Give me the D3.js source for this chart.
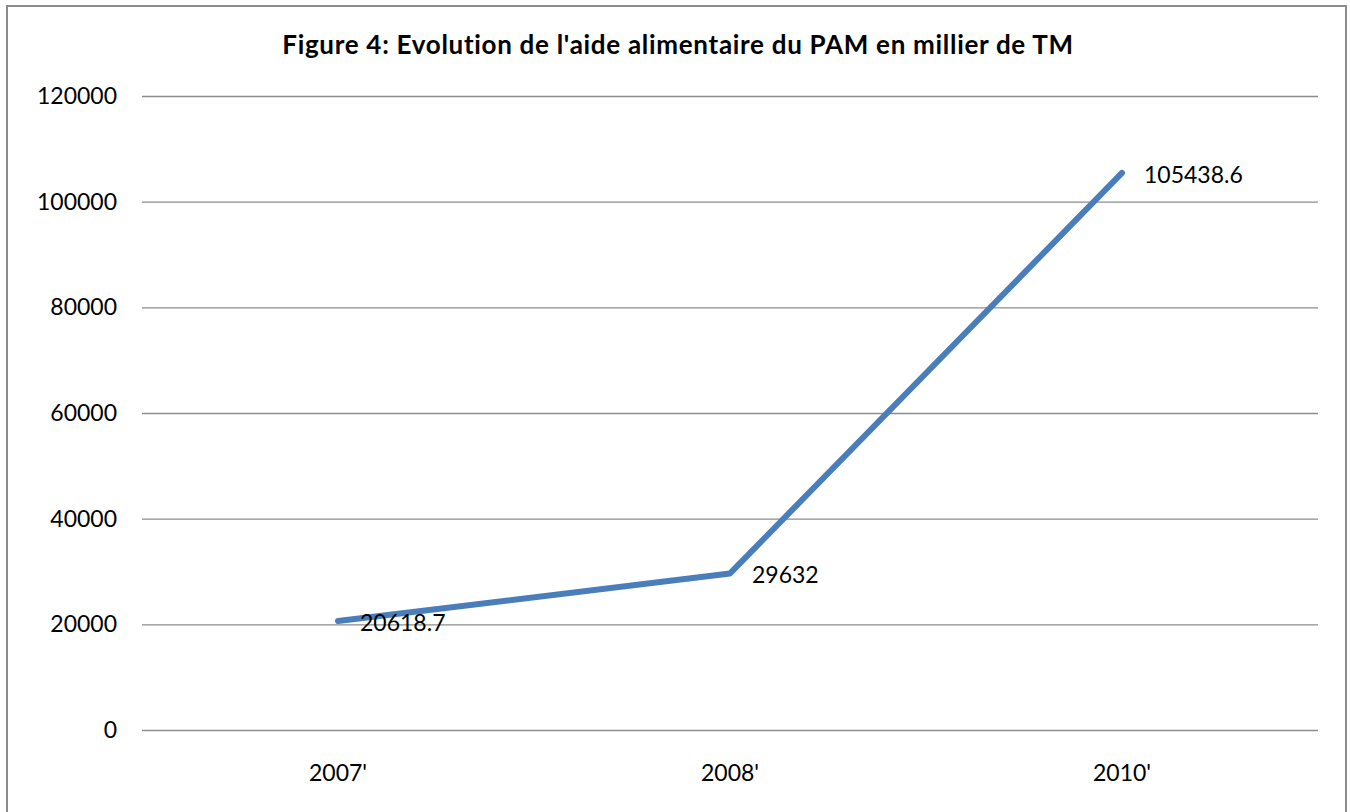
<!DOCTYPE html>
<html lang="fr">
<head>
    <meta charset="UTF-8">
    <title>Aide alimentaire PAM</title>
    <script src="https://d3js.org/d3.v7.min.js"></script>
    <style>
        body { margin: 0; background: #fff; }
        text { font-family: Lato, "Open Sans", sans-serif; fill: #000; }
    </style>
</head>
<body>

<svg width="1350" height="812"></svg>

<script>

    var years = ["2007'", "2008'", "2010'"];
    var values = [20618.7, 29632, 105438.6];
    var yTicks = [0, 20000, 40000, 60000, 80000, 100000, 120000];

    var svg = d3.select('svg');

    // cadre du graphique
    svg.append('rect')
        .attr('x', 7).attr('y', 6)
        .attr('width', 1339).attr('height', 820)
        .attr('fill', 'none')
        .attr('stroke', '#8c8c8c')
        .attr('stroke-width', 2);

    svg.append('text')
        .attr('x', 678).attr('y', 54)
        .attr('text-anchor', 'middle')
        .style('font-size', '26px')
        .style('font-weight', 'bold')
        .style('letter-spacing', '0.7px')
        .text("Figure 4: Evolution de l'aide alimentaire du PAM en millier de TM");

    var left = 142, right = 1318;

    var x = d3.scaleBand().domain(years).range([left, right]);
    var y = d3.scaleLinear().domain([0, 120000]).range([730, 96]);

    // grille + axe Y
    var axisY = d3.axisLeft(y).tickValues(yTicks).tickFormat(d3.format('d'))
        .tickSize(-(right - left)).tickPadding(25);
    var gy = svg.append('g')
        .attr('transform', 'translate(' + left + ',0)')
        .call(axisY);
    gy.select('.domain').remove();
    gy.selectAll('.tick line').attr('stroke', '#8c8c8c').attr('stroke-width', 1.3);
    gy.selectAll('.tick text').style('font-size', '23px').style('font-family', 'Lato, sans-serif');

    // axe X
    var axisX = d3.axisBottom(x).tickSize(0).tickPadding(35);
    var gx = svg.append('g')
        .attr('transform', 'translate(0,730)')
        .call(axisX);
    gx.select('.domain').remove();
    gx.selectAll('.tick text').style('font-size', '23px').style('font-family', 'Lato, sans-serif');

    var line = d3.line()
        .x(function (d, i) { return x(years[i]) + x.bandwidth() / 2; })
        .y(function (d) { return y(d); });

    svg.append('path')
        .datum(values)
        .attr('d', line)
        .attr('fill', 'none')
        .attr('stroke', '#4a7ebb')
        .attr('stroke-width', 6)
        .attr('stroke-linecap', 'round')
        .attr('stroke-linejoin', 'round');

    svg.selectAll('.lbl')
        .data(values)
        .enter()
        .append('text')
        .attr('class', 'lbl')
        .attr('x', function (d, i) { return x(years[i]) + x.bandwidth() / 2 + 22; })
        .attr('y', function (d) { return y(d) + 10; })
        .style('font-size', '23px')
        .text(function (d) { return d; });

</script>
</body>
</html>
